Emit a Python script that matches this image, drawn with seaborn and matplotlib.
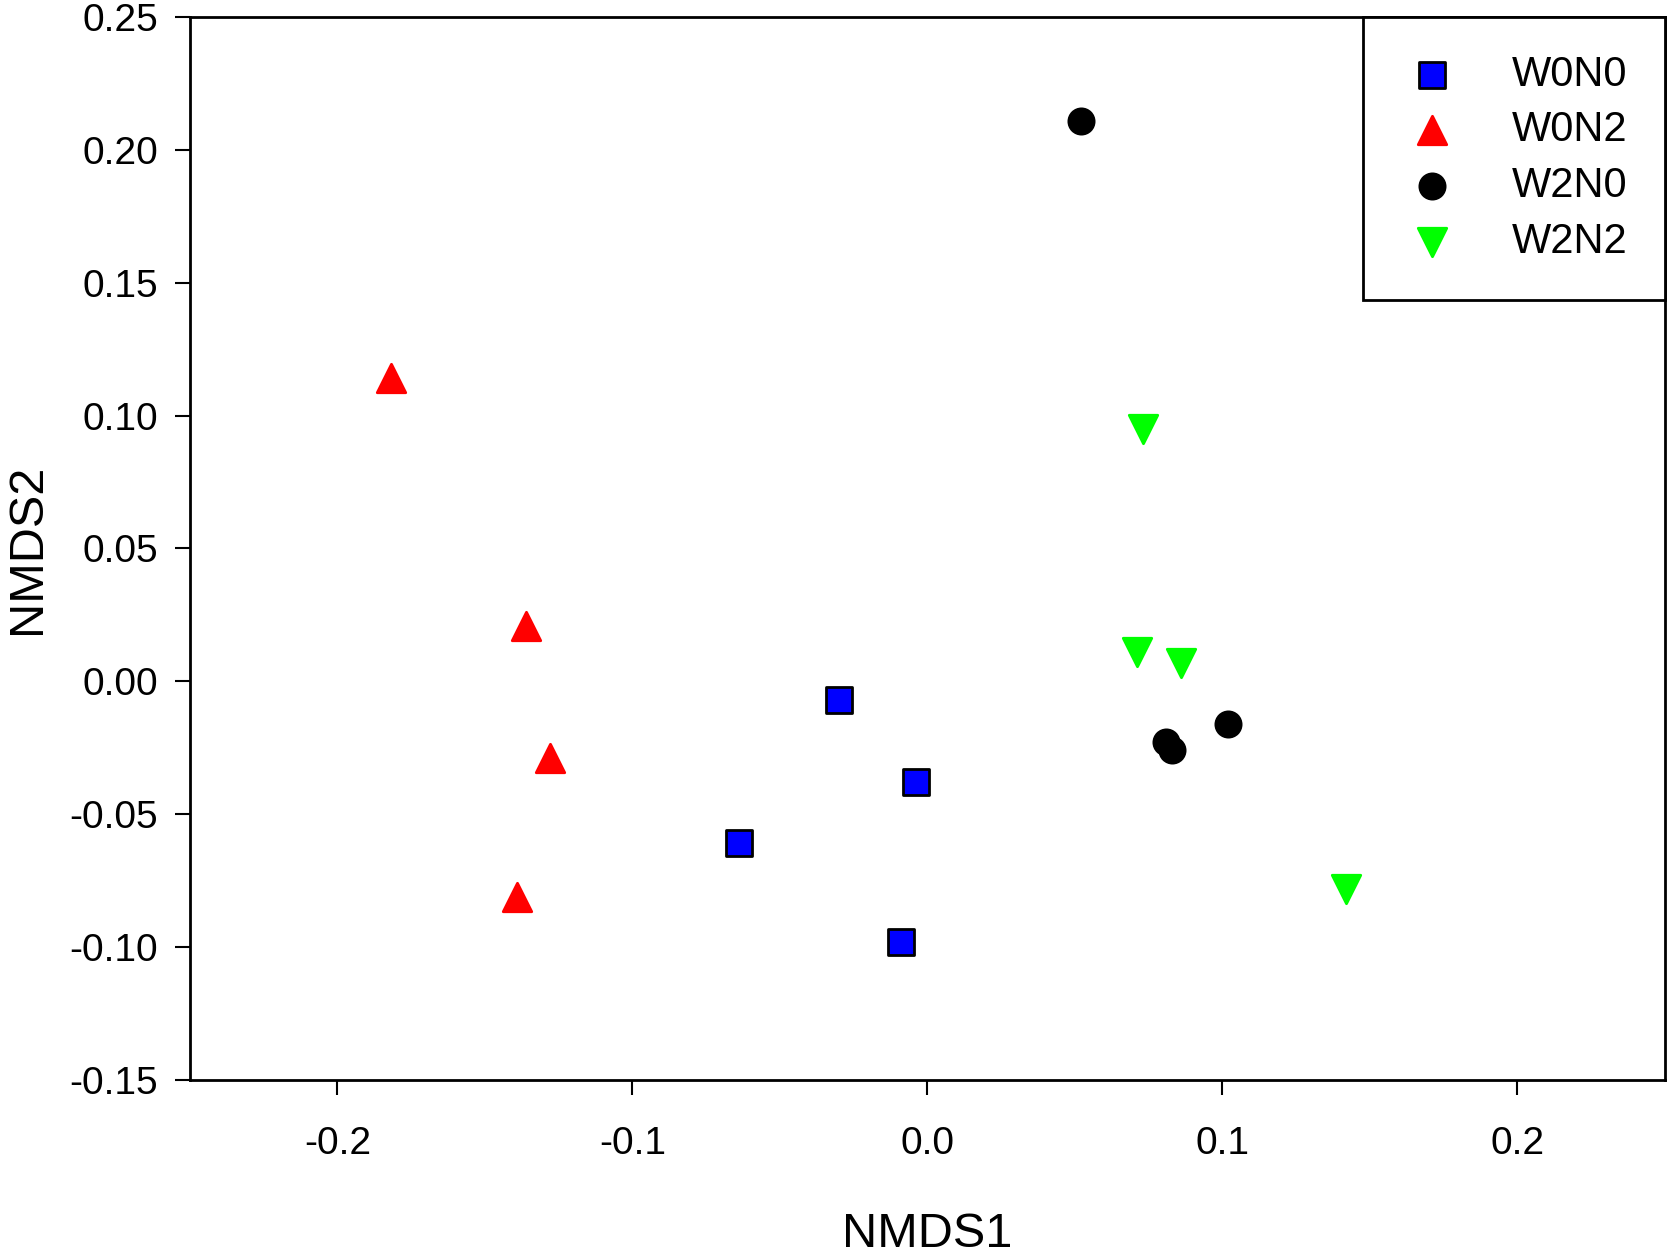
import pandas as pd
import matplotlib
matplotlib.use("Agg")
import matplotlib.pyplot as plt
import seaborn as sns

# NMDS scores
w0n0_x = [-0.030, -0.004, -0.064, -0.009]
w0n0_y = [-0.007, -0.038, -0.061, -0.098]
w0n2_x = [-0.182, -0.136, -0.128, -0.139]
w0n2_y = [0.114, 0.021, -0.029, -0.081]
w2n0_x = [0.052, 0.102, 0.081, 0.083]
w2n0_y = [0.211, -0.016, -0.023, -0.026]
w2n2_x = [0.073, 0.071, 0.086, 0.142]
w2n2_y = [0.095, 0.011, 0.007, -0.078]

groups = ["W0N0", "W0N2", "W2N0", "W2N2"]
xs = [w0n0_x, w0n2_x, w2n0_x, w2n2_x]
ys = [w0n0_y, w0n2_y, w2n0_y, w2n2_y]

rows = []
for g, gx, gy in zip(groups, xs, ys):
    for a, b in zip(gx, gy):
        rows.append({"NMDS1": a, "NMDS2": b, "group": g})
df = pd.DataFrame(rows)

sns.set_style("white")
plt.rcParams["font.family"] = ["Liberation Sans", "DejaVu Sans"]
plt.rcParams["text.color"] = "black"
plt.rcParams["axes.labelcolor"] = "black"

palette = {"W0N0": "#0000ff", "W0N2": "#ff0000", "W2N0": "#000000", "W2N2": "#00ff00"}
markers = {"W0N0": "s", "W0N2": "^", "W2N0": "o", "W2N2": "v"}

fig = plt.figure(figsize=(16.68, 12.54), dpi=100)
ax = fig.add_axes([0.1139, 0.1388, 0.8841, 0.8476])

for g in groups:
    sub = df[df["group"] == g]
    edge = "black" if g == "W0N0" else palette[g]
    size = 330 if g in ("W0N0", "W2N0") else 420
    sns.scatterplot(data=sub, x="NMDS1", y="NMDS2", color=palette[g], marker=markers[g],
                    s=size, edgecolor=edge, linewidth=2, label=g, ax=ax, zorder=3)

ax.set_xlim(-0.25, 0.25)
ax.set_ylim(-0.15, 0.25)
ax.set_xticks([-0.2, -0.1, 0.0, 0.1, 0.2])
ax.set_xticklabels(["-0.2", "-0.1", "0.0", "0.1", "0.2"])
ax.set_yticks([-0.15, -0.10, -0.05, 0.0, 0.05, 0.10, 0.15, 0.20, 0.25])
ax.set_yticklabels([f"{v:.2f}" for v in ax.get_yticks()])

for sp in ax.spines.values():
    sp.set_linewidth(2)
    sp.set_color("black")

ax.tick_params(axis="x", bottom=True, direction="out", length=11, width=1.5,
               labelsize=28, pad=22, colors="black")
ax.tick_params(axis="y", left=True, direction="out", length=11, width=1.5,
               labelsize=28, pad=12, colors="black")
ax.set_xlabel("NMDS1", fontsize=35, labelpad=36)
ax.set_ylabel("NMDS2", fontsize=35, labelpad=14)

leg = ax.legend(loc="upper right", borderaxespad=0, fontsize=30, frameon=True,
                fancybox=False, handletextpad=1.15, labelspacing=0.38,
                borderpad=0.9, handlelength=1.5, markerscale=1.0)
leg.get_frame().set_edgecolor("black")
leg.get_frame().set_linewidth(2)
leg.get_frame().set_alpha(1)

fig.savefig("out.png", dpi=100)
